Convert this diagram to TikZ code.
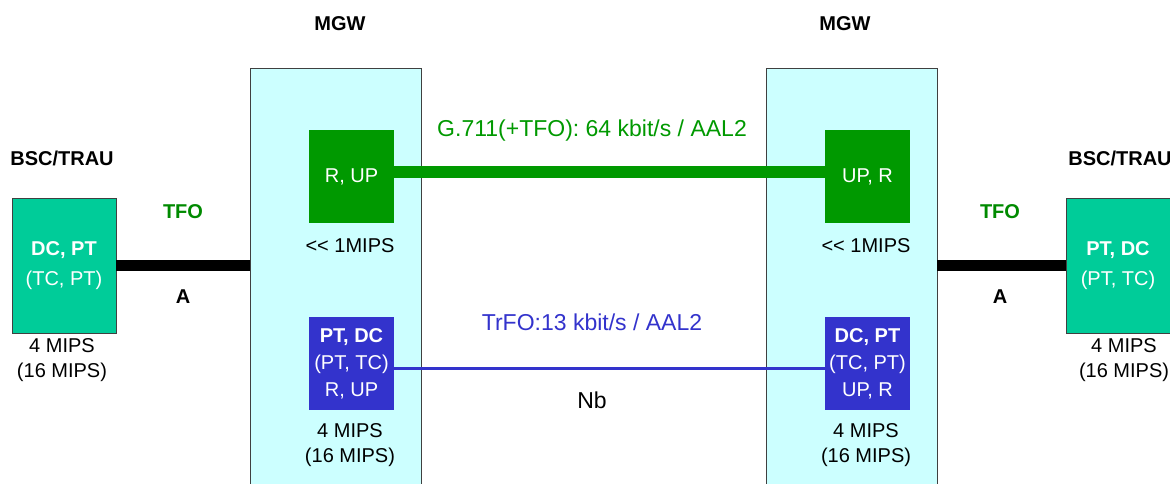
\documentclass[tikz,border=0pt]{standalone}
\usepackage{fontspec}
\setmainfont{Liberation Sans}
\usetikzlibrary{positioning}
\definecolor{mgwcyan}{HTML}{CCFFFF}
\definecolor{bscteal}{HTML}{00CC99}
\definecolor{upgreen}{HTML}{009900}
\definecolor{tcblue}{HTML}{3333CC}
\definecolor{tfogreen}{HTML}{008A00}
\begin{document}
\begin{tikzpicture}[x=0.5pt,y=-0.5pt,
          every node/.style={font=\fontsize{10}{12}\selectfont,inner sep=0pt},
          mgw/.style={draw=black!75,fill=mgwcyan,minimum width=85.5pt,minimum height=211pt},
          bsc/.style={draw=black!75,fill=bscteal,text=white,align=center,
                      minimum width=52pt,minimum height=67.5pt,font=\fontsize{10}{15}\selectfont},
          upbox/.style={fill=upgreen,text=white,minimum width=42.5pt,minimum height=46.5pt},
          tcbox/.style={fill=tcblue,text=white,align=center,
                        minimum width=42.5pt,minimum height=46.5pt,font=\fontsize{10}{13.5}\selectfont},
          mips/.style={align=center,font=\fontsize{10}{12.5}\selectfont},
          hdr/.style={font=\fontsize{10}{12}\selectfont\bfseries},
          link/.style={font=\fontsize{11.5}{13}\selectfont}]
        \useasboundingbox (0,0) rectangle (1170,483);
        % MGW frames
        \node[mgw] (mgwL) at (335.5,279) {};
        \node[mgw] (mgwR) at (851.5,279) {};
        \node[hdr] (mgwLlbl) at (340,24) {MGW};
        \node[hdr] (mgwRlbl) at (845,24) {MGW};
        % BSC/TRAU
        \node[hdr] (bscLlbl) at (62,158) {BSC/TRAU};
        \node[hdr] (bscRlbl) at (1120,158) {BSC/TRAU};
        \node[bsc] (bscL) at (64,265.5) {\textbf{DC, PT}\\(TC, PT)};
        \node[bsc] (bscR) at (1118,265.5) {\textbf{PT, DC}\\(PT, TC)};
        \node[mips] (bscLmips) at (62,360) {4 MIPS\\(16 MIPS)};
        \node[mips] (bscRmips) at (1124,360) {4 MIPS\\(16 MIPS)};
        % A interface
        \draw[line width=5.8pt] (bscL.east) -- (bscL.east -| mgwL.west);
        \draw[line width=5.8pt] (bscR.west) -- (bscR.west -| mgwR.east);
        \node[hdr,text=tfogreen] (tfoL) at (183,212) {TFO};
        \node[hdr,text=tfogreen] (tfoR) at (1000,212) {TFO};
        \node[hdr] (aL) at (183,297) {A};
        \node[hdr] (aR) at (1000,297) {A};
        % user plane boxes
        \node[upbox] (upL) at (351.5,176.5) {R, UP};
        \node[upbox] (upR) at (867.5,176.5) {UP, R};
        \node[mips] (upLmips) at (350,246) {<{}< 1MIPS};
        \node[mips] (upRmips) at (866,246) {<{}< 1MIPS};
        \draw[upgreen,line width=5.8pt] ([yshift=2.25pt]upL.east) -- ([yshift=2.25pt]upR.west);
        \node[link,text=upgreen] (g711) at (592,131) {G.711(+TFO): 64 kbit/s / AAL2};
        % transcoder boxes
        \node[tcbox] (tcL) at (351.5,363.5) {\textbf{PT, DC}\\(PT, TC)\\R, UP};
        \node[tcbox] (tcR) at (867.5,363.5) {\textbf{DC, PT}\\(TC, PT)\\UP, R};
        \node[mips] (tcLmips) at (350,445) {4 MIPS\\(16 MIPS)};
        \node[mips] (tcRmips) at (866,445) {4 MIPS\\(16 MIPS)};
        \draw[tcblue,line width=1.5pt] ([yshift=-2.25pt]tcL.east) -- ([yshift=-2.25pt]tcR.west);
        \node[link,text=tcblue] (trfo) at (592,322) {TrFO:13 kbit/s / AAL2};
        \node[link] (nb) at (592,400) {Nb};
      \end{tikzpicture}
\end{document}
